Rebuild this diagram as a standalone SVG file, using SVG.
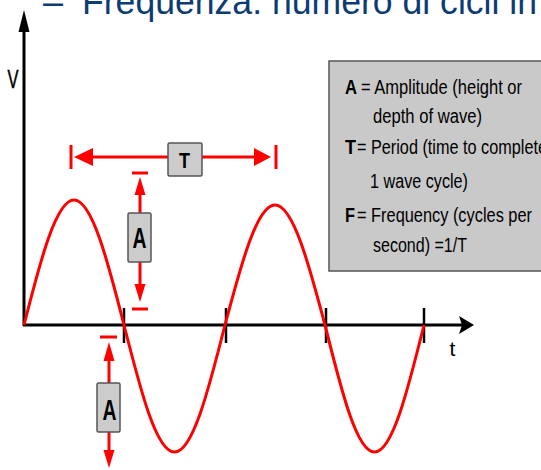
<svg xmlns="http://www.w3.org/2000/svg" width="541" height="470" viewBox="0 0 541 470">
<defs>
<style>
.ax{stroke:#000;stroke-width:3;fill:none}
.tick{stroke:#000;stroke-width:2.5}
.red{stroke:#ff0000;stroke-width:3;fill:none}
.redf{fill:#ff0000}
.lbl{fill:#cccccc;stroke:#555;stroke-width:1.5}
.t{font-family:"Liberation Sans",Arial,sans-serif;fill:#000}
.lg{font-size:20px}
.b{font-weight:bold}
</style>
</defs>
<rect width="541" height="470" fill="#ffffff"/>
<g id="heading" fill="#0d3c73" font-family="Liberation Sans, Arial, sans-serif" font-size="36">
<text x="43" y="14">–</text>
<text x="82" y="14" textLength="455" lengthAdjust="spacingAndGlyphs">Frequenza: numero di cicli in</text>
</g>
<g id="axes">
<line class="ax" x1="24" y1="30" x2="24" y2="326"/>
<polygon points="24,10 18.5,32 29.5,32" fill="#000"/>
<line class="ax" x1="23" y1="325" x2="462" y2="325"/>
<polygon points="474,325 459,316 462,325 459,334" fill="#000"/>
<line class="tick" x1="124" y1="308" x2="124" y2="343"/>
<line class="tick" x1="226" y1="308" x2="226" y2="343"/>
<line class="tick" x1="326" y1="308" x2="326" y2="343"/>
<line class="tick" x1="424" y1="308" x2="424" y2="343"/>
<text class="t" x="13" y="88" font-size="25" text-anchor="middle" textLength="11" lengthAdjust="spacingAndGlyphs" stroke="#000" stroke-width="0.5">V</text>
<text class="t" x="452.5" y="356" font-size="21" text-anchor="middle">t</text>
</g>
<g id="wave">
<path class="red" d="M24,325 C40.3,260.9 56,200 74,200 C92,200 107.7,260.9 124,325 C140.5,390.1 156.3,452 174.5,452 C192.7,452 208.5,390.1 225,325 C241.3,263.5 257,205 275,205 C293,205 308.7,263.5 325,325 C341.2,390.1 356.7,452 374.5,452 C392.3,452 407.8,390.1 424,325"/>
</g>
<g id="connectors">
<line class="red" x1="71" y1="145" x2="71" y2="169"/>
<line class="red" x1="276" y1="145" x2="276" y2="169"/>
<line class="red" x1="90" y1="157" x2="168" y2="157"/>
<line class="red" x1="202" y1="157" x2="257" y2="157"/>
<polygon class="redf" points="74,157 93,148 93,166"/>
<polygon class="redf" points="271,157 254,148 254,166"/>
<line class="red" x1="132" y1="173" x2="148" y2="173"/>
<line class="red" x1="140" y1="195" x2="140" y2="213"/>
<polygon class="redf" points="140,177 134.5,195 145.5,195"/>
<line class="red" x1="140" y1="262" x2="140" y2="285"/>
<polygon class="redf" points="140,302 134.5,284 145.5,284"/>
<line class="red" x1="132" y1="309" x2="148" y2="309"/>
<line class="red" x1="100" y1="337" x2="117" y2="337"/>
<line class="red" x1="109" y1="360" x2="109" y2="383"/>
<polygon class="redf" points="109,342 103.5,361 114.5,361"/>
<line class="red" x1="109" y1="432" x2="109" y2="452"/>
<polygon class="redf" points="109,468 103.5,450 114.5,450"/>
</g>
<g id="label-T">
<rect class="lbl" x="168" y="143" width="34" height="33" rx="1.5"/>
<text class="t b" x="184.5" y="167.5" font-size="22" text-anchor="middle" textLength="11" lengthAdjust="spacingAndGlyphs">T</text>
</g>
<g id="label-A-upper">
<rect class="lbl" x="128" y="213" width="23" height="49" rx="1.5"/>
<text class="t b" x="139.5" y="248" font-size="29" text-anchor="middle" textLength="14" lengthAdjust="spacingAndGlyphs">A</text>
</g>
<g id="label-A-lower">
<rect class="lbl" x="97" y="383" width="23" height="49" rx="1.5"/>
<text class="t b" x="109.5" y="420" font-size="29" text-anchor="middle" textLength="14" lengthAdjust="spacingAndGlyphs">A</text>
</g>
<g id="legend">
<rect x="329" y="61" width="230" height="210" fill="#c9c9c9" stroke="#555" stroke-width="1.5"/>
<text class="t lg b" x="345" y="94" textLength="12" lengthAdjust="spacingAndGlyphs">A</text>
<text class="t lg" x="361" y="94" textLength="161" lengthAdjust="spacingAndGlyphs">= Amplitude (height or</text>
<text class="t lg" x="373" y="123" textLength="109" lengthAdjust="spacingAndGlyphs">depth of wave)</text>
<text class="t lg b" x="345" y="154" textLength="11" lengthAdjust="spacingAndGlyphs">T</text>
<text class="t lg" x="357" y="154" textLength="190" lengthAdjust="spacingAndGlyphs">= Period (time to complete</text>
<text class="t lg" x="370" y="188" textLength="98" lengthAdjust="spacingAndGlyphs">1 wave cycle)</text>
<text class="t lg b" x="345" y="222" textLength="10" lengthAdjust="spacingAndGlyphs">F</text>
<text class="t lg" x="357" y="222" textLength="175" lengthAdjust="spacingAndGlyphs">= Frequency (cycles per</text>
<text class="t lg" x="373" y="252" textLength="94" lengthAdjust="spacingAndGlyphs">second) =1/T</text>
</g>
</svg>
